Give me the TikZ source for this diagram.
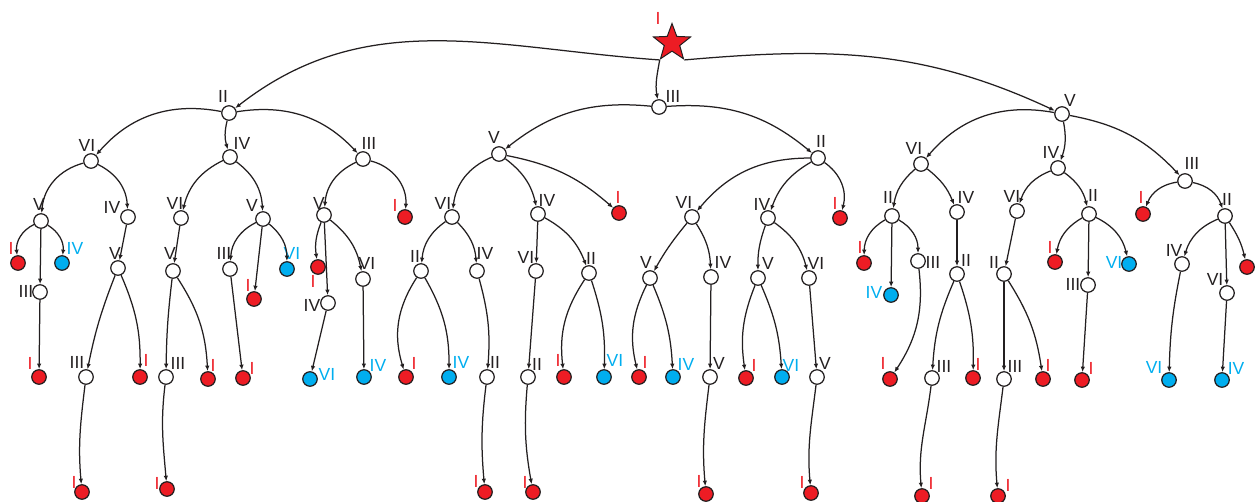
\documentclass[tikz,border=0pt]{standalone}
\usepackage{fontspec}
\setmainfont{Liberation Sans}
\usetikzlibrary{shapes.geometric,arrows.meta}
\definecolor{nred}{HTML}{ED1C24}
\definecolor{nblue}{HTML}{00AEEF}
\definecolor{ink}{HTML}{231F20}
\newcommand\mynode[7]{\node[#2] (#1) at (#3,-#4) {}; \node[#2l] (#1l) at (#5,-#6) {#7};}
\tikzset{
  base/.style={circle,draw=ink,line width=1.25pt,minimum size=14.5pt,inner sep=0pt},
  wn/.style={base,fill=white},
  rn/.style={base,fill=nred},
  bn/.style={base,fill=nblue},
  labbase/.style={inner sep=0pt,font=\fontsize{17.5}{17.5}\selectfont},
  wnl/.style={labbase,text=ink},
  rnl/.style={labbase,text=nred},
  bnl/.style={labbase,text=nblue},
  e/.style={draw=ink,line width=1.25pt,-{Latex[length=5.5pt,width=4.5pt]}},
  s/.style={out=-97,in=95},
}
\begin{document}
\begin{tikzpicture}[x=1pt,y=1pt]
\useasboundingbox (0,0) rectangle (1257,-501);
% root
\node[star,star points=5,star point ratio=2.4,minimum size=39pt,inner sep=0pt,fill=nred,draw=ink,line width=1pt] (r0) at (672,-43) {};
\node[rnl] (r0l) at (658,-18) {I};
% level 1
\mynode{A}{wn}{229}{113}{223}{96}{II}
\mynode{B}{wn}{659}{107}{673}{96}{III}
\mynode{C}{wn}{1062}{114}{1070}{100}{V}
% A subtree
\mynode{a1}{wn}{91}{161}{87}{145}{VI}
\mynode{a2}{wn}{230}{157}{242}{143}{IV}
\mynode{a3}{wn}{363}{159}{369}{143}{III}
\mynode{a11}{wn}{41}{221}{39}{204}{V}
\mynode{a12}{wn}{128}{217}{112}{207}{IV}
\mynode{a111}{rn}{18}{263}{11}{248}{I}
\mynode{a112}{wn}{40}{292}{26}{291}{III}
\mynode{a113}{bn}{62}{263}{75}{248}{IV}
\mynode{a1121}{rn}{39}{377}{30}{363}{I}
\mynode{a121}{wn}{118}{268}{115}{253}{V}
\mynode{a1211}{wn}{86}{377}{77}{362}{III}
\mynode{a1212}{rn}{140}{377}{146}{360}{I}
\mynode{a12111}{rn}{82}{492}{74}{482}{I}
\mynode{a21}{wn}{181}{218}{175}{203}{VI}
\mynode{a22}{wn}{263}{219}{252}{205}{V}
\mynode{a211}{wn}{173}{271}{170}{253}{V}
\mynode{a2111}{wn}{166}{377}{178}{363}{III}
\mynode{a2112}{rn}{208}{379}{213}{365}{I}
\mynode{a21111}{rn}{167}{489}{157}{483}{I}
\mynode{a221}{wn}{230}{269}{224}{253}{III}
\mynode{a222}{rn}{254}{299}{248}{285}{I}
\mynode{a223}{bn}{287}{269}{292}{253}{VI}
\mynode{a2211}{rn}{243}{378}{252}{368}{I}
\mynode{a31}{wn}{324}{215}{319}{203}{V}
\mynode{a32}{rn}{405}{217}{395}{205}{I}
\mynode{a311}{rn}{318}{267}{313}{281}{I}
\mynode{a312}{wn}{328}{303}{312}{305}{IV}
\mynode{a313}{wn}{363}{279}{367}{263}{VI}
\mynode{a3121}{bn}{310}{379}{327}{374}{VI}
\mynode{a3131}{bn}{364}{377}{378}{365}{IV}
% B subtree
\mynode{b1}{wn}{499}{154}{494}{137}{V}
\mynode{b2}{wn}{818}{158}{821}{141}{II}
\mynode{b11}{wn}{452}{217}{443}{203}{VI}
\mynode{b12}{wn}{538}{214}{547}{200}{IV}
\mynode{b13}{rn}{619}{213}{618}{197}{I}
\mynode{b111}{wn}{421}{271}{415}{256}{II}
\mynode{b112}{wn}{477}{271}{485}{253}{IV}
\mynode{b1111}{rn}{406}{377}{414}{363}{I}
\mynode{b1112}{bn}{449}{377}{461}{362}{IV}
\mynode{b1121}{wn}{487}{377}{495}{362}{II}
\mynode{b11211}{rn}{485}{492}{476}{481}{I}
\mynode{b121}{wn}{536}{271}{526}{257}{VI}
\mynode{b122}{wn}{589}{273}{591}{258}{II}
\mynode{b1211}{wn}{528}{377}{537}{364}{II}
\mynode{b12111}{rn}{533}{492}{525}{482}{I}
\mynode{b1221}{rn}{564}{377}{558}{360}{I}
\mynode{b1222}{bn}{604}{377}{615}{360}{VI}
\mynode{b21}{wn}{692}{217}{684}{202}{VI}
\mynode{b22}{wn}{768}{218}{762}{204}{IV}
\mynode{b23}{rn}{840}{218}{835}{203}{I}
\mynode{b211}{wn}{650}{278}{646}{262}{V}
\mynode{b212}{wn}{711}{277}{723}{262}{IV}
\mynode{b2111}{rn}{639}{377}{645}{362}{I}
\mynode{b2112}{bn}{673}{377}{686}{364}{IV}
\mynode{b2121}{wn}{710}{377}{719}{363}{V}
\mynode{b21211}{rn}{706}{494}{699}{481}{I}
\mynode{b221}{wn}{758}{278}{768}{263}{V}
\mynode{b222}{wn}{809}{278}{816}{263}{VI}
\mynode{b2211}{rn}{746}{378}{754}{365}{I}
\mynode{b2212}{bn}{782}{377}{791}{365}{VI}
\mynode{b2221}{wn}{817}{377}{825}{363}{V}
\mynode{b22211}{rn}{811}{493}{802}{482}{I}
% C subtree
\mynode{c1}{wn}{921}{164}{914}{148}{VI}
\mynode{c2}{wn}{1058}{168}{1051}{152}{IV}
\mynode{c3}{wn}{1185}{181}{1192}{163}{III}
\mynode{c11}{wn}{892}{216}{888}{197}{II}
\mynode{c12}{wn}{957}{212}{966}{197}{IV}
\mynode{c111}{rn}{864}{263}{860}{247}{I}
\mynode{c112}{bn}{891}{295}{874}{292}{IV}
\mynode{c113}{wn}{918}{261}{933}{262}{III}
\mynode{c1131}{rn}{890}{379}{883}{363}{I}
\mynode{c121}{wn}{957}{274}{966}{260}{II}
\mynode{c1211}{wn}{932}{378}{944}{366}{III}
\mynode{c1212}{rn}{973}{378}{978}{364}{I}
\mynode{c12111}{rn}{922}{496}{931}{483}{I}
\mynode{c21}{wn}{1017}{211}{1012}{196}{VI}
\mynode{c22}{wn}{1089}{214}{1093}{195}{II}
\mynode{c211}{wn}{1004}{274}{994}{262}{II}
\mynode{c2111}{wn}{1004}{379}{1015}{366}{III}
\mynode{c2112}{rn}{1043}{379}{1048}{365}{I}
\mynode{c21111}{rn}{998}{496}{1008}{485}{I}
\mynode{c221}{rn}{1055}{262}{1050}{247}{I}
\mynode{c222}{wn}{1088}{285}{1073}{284}{III}
\mynode{c223}{bn}{1129}{264}{1114}{262}{VI}
\mynode{c2221}{rn}{1082}{380}{1091}{368}{I}
\mynode{c31}{rn}{1143}{214}{1141}{197}{I}
\mynode{c32}{wn}{1225}{216}{1227}{199}{II}
\mynode{c321}{wn}{1182}{264}{1174}{250}{IV}
\mynode{c322}{wn}{1227}{293}{1215}{279}{VI}
\node[rn] (c323) at (1247,-267) {};
\mynode{c3211}{bn}{1169}{380}{1154}{367}{VI}
\mynode{c3221}{bn}{1222}{380}{1236}{368}{IV}
% edges: root
\draw[e] (r0.outer point 3) to[out=176,in=38] (A);
\draw[e] (r0.outer point 3) to[out=-100,in=100] (B);
\draw[e] (r0.outer point 4) to[out=5,in=155] (C);
% A
\draw[e] (A) to[bend right=30] (a1);
\draw[e] (A) to[bend right=15] (a2);
\draw[e] (A) to[bend left=28] (a3);
\draw[e] (a1) to[bend right=35] (a11);
\draw[e] (a1) to[bend left=30] (a12);
\draw[e] (a2) to[bend right=25] (a21);
\draw[e] (a2) to[bend left=25] (a22);
\draw[e] (a3) to[bend right=30] (a31);
\draw[e] (a3) to[bend left=40] (a32);
\draw[e] (a11) to[bend right=35] (a111);
\draw[e] (a11) -- (a112);
\draw[e] (a11) to[bend left=32] (a113);
\draw[e] (a112) -- (a1121);
\draw[e] (a12) -- (a121);
\draw[e] (a121) to[bend right=5] (a1211);
\draw[e] (a121) to[bend left=12] (a1212);
\draw[e] (a1211) to[s] (a12111);
\draw[e] (a21) -- (a211);
\draw[e] (a211) to[bend right=3] (a2111);
\draw[e] (a211) to[bend left=15] (a2112);
\draw[e] (a2111) to[s] (a21111);
\draw[e] (a22) to[bend right=30] (a221);
\draw[e] (a22) -- (a222);
\draw[e] (a22) to[bend left=25] (a223);
\draw[e] (a221) -- (a2211);
\draw[e] (a31) to[bend right=15] (a311);
\draw[e] (a31) -- (a312);
\draw[e] (a31) to[bend left=20] (a313);
\draw[e] (a312) -- (a3121);
\draw[e] (a313) -- (a3131);
% B
\draw[e] (B) to[bend right=22] (b1);
\draw[e] (B) to[bend left=22] (b2);
\draw[e] (b1) to[bend right=30] (b11);
\draw[e] (b1) to[bend left=20] (b12);
\draw[e] (b1) to[bend left=15] (b13);
\draw[e] (b11) to[bend right=25] (b111);
\draw[e] (b11) to[bend left=20] (b112);
\draw[e] (b111) to[bend right=25] (b1111);
\draw[e] (b111) to[bend left=15] (b1112);
\draw[e] (b112) to[bend left=10] (b1121);
\draw[e] (b1121) to[s] (b11211);
\draw[e] (b12) -- (b121);
\draw[e] (b12) to[bend left=20] (b122);
\draw[e] (b121) -- (b1211);
\draw[e] (b1211) to[out=-95,in=100] (b12111);
\draw[e] (b122) to[bend right=20] (b1221);
\draw[e] (b122) to[bend left=10] (b1222);
\draw[e] (b2) to[bend right=25] (b21);
\draw[e] (b2) to[bend right=20] (b22);
\draw[e] (b2) to[bend left=35] (b23);
\draw[e] (b21) to[bend right=5] (b211);
\draw[e] (b21) to[bend left=15] (b212);
\draw[e] (b211) to[bend right=20] (b2111);
\draw[e] (b211) to[bend left=10] (b2112);
\draw[e] (b212) -- (b2121);
\draw[e] (b2121) to[s] (b21211);
\draw[e] (b22) to[bend right=10] (b221);
\draw[e] (b22) to[bend left=20] (b222);
\draw[e] (b221) to[bend right=15] (b2211);
\draw[e] (b221) to[bend left=10] (b2212);
\draw[e] (b222) -- (b2221);
\draw[e] (b2221) to[s] (b22211);
% C
\draw[e] (C) to[bend right=30] (c1);
\draw[e] (C) to[bend left=15] (c2);
\draw[e] (C) to[bend left=18] (c3);
\draw[e] (c1) to[bend right=20] (c11);
\draw[e] (c1) to[bend left=15] (c12);
\draw[e] (c11) to[bend right=30] (c111);
\draw[e] (c11) -- (c112);
\draw[e] (c11) to[bend left=30] (c113);
\draw[e] (c113) to[bend left=20] (c1131);
\draw[e] (c12) -- (c121);
\draw[e] (c121) to[bend right=10] (c1211);
\draw[e] (c121) to[bend left=10] (c1212);
\draw[e] (c1211) to[s] (c12111);
\draw[e] (c2) to[bend right=25] (c21);
\draw[e] (c2) to[bend left=20] (c22);
\draw[e] (c21) -- (c211);
\draw[e] (c211) -- (c2111);
\draw[e] (c211) to[bend left=12] (c2112);
\draw[e] (c2111) to[s] (c21111);
\draw[e] (c22) to[bend right=25] (c221);
\draw[e] (c22) -- (c222);
\draw[e] (c22) to[bend left=25] (c223);
\draw[e] (c222) -- (c2221);
\draw[e] (c3) to[bend right=30] (c31);
\draw[e] (c3) to[bend left=30] (c32);
\draw[e] (c32) to[bend right=25] (c321);
\draw[e] (c32) -- (c322);
\draw[e] (c32) to[bend left=10] (c323);
\draw[e] (c321) to[bend right=5] (c3211);
\draw[e] (c322) -- (c3221);
\end{tikzpicture}
\end{document}
